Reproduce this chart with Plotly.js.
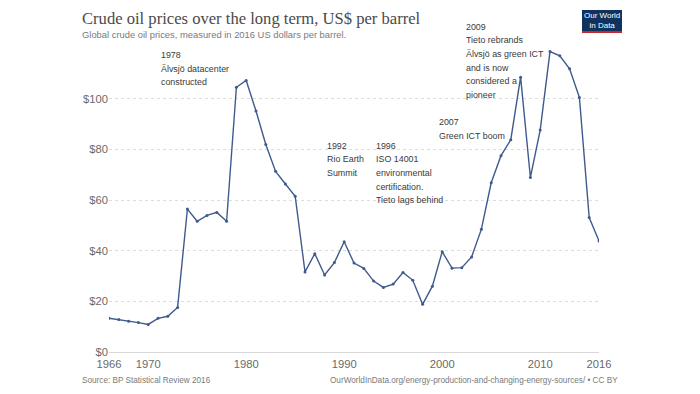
<!DOCTYPE html>
<html>
<head>
<meta charset="utf-8">
<script src="https://cdn.plot.ly/plotly-3.0.1.min.js"></script>
<style>html,body{margin:0;padding:0;background:#fff;}#chart{width:700px;height:394px;}</style>
</head>
<body>
<div id="chart"></div>
<script>
// ---- Data ----
const years = [1966,1967,1968,1969,1970,1971,1972,1973,1974,1975,1976,1977,1978,1979,1980,
  1981,1982,1983,1984,1985,1986,1987,1988,1989,1990,1991,1992,1993,1994,1995,1996,1997,1998,1999,
  2000,2001,2002,2003,2004,2005,2006,2007,2008,2009,2010,2011,2012,2013,2014,2015,2016];
const prices = [13.3,12.8,12.1,11.6,10.9,13.3,14.1,17.6,56.4,51.6,53.9,55.1,51.6,104.5,107.2,
  95.1,81.9,71.3,66.3,61.5,31.6,38.8,30.4,35.3,43.5,35.1,33.0,28.0,25.5,26.8,31.4,28.3,18.8,26.0,
  39.6,33.1,33.3,37.5,48.5,66.8,77.5,83.8,108.5,68.9,87.6,118.6,116.9,111.8,100.5,53.1,43.8];
const xTickVals = [1966,1970,1980,1990,2000,2010,2016];
const yTickVals = [0,20,40,60,80,100];
const yTickText = ['$0','$20','$40','$60','$80','$100'];

const titleText = 'Crude oil prices over the long term, US$ per barrel';
const subtitleText = 'Global crude oil prices, measured in 2016 US dollars per barrel.';
const sourceText = 'Source: BP Statistical Review 2016';
const urlText = 'OurWorldInData.org/energy-production-and-changing-energy-sources/ • CC BY';
const notes = [
  {x:161, y:55, lines:['1978','Älvsjö datacenter','constructed']},
  {x:327.5, y:145.7, lines:['1992','Rio Earth','Summit']},
  {x:376.5, y:145.7, lines:['1996','ISO 14001','environmental','certification.','Tieto lags behind']},
  {x:439.5, y:122.5, lines:['2007','Green ICT boom']},
  {x:466.3, y:26.8, lines:['2009','Tieto rebrands','Älvsjö as green ICT','and is now','considered a','pioneer']}
];

// ---- Layout helpers ----
const W = 700, H = 394;
const M = {l:109, r:101, t:48, b:42};
const PW = W - M.l - M.r, PH = H - M.t - M.b;
const TXT_PAD = 2.5; // annotation inner padding compensation
const px = x => (x - M.l) / PW;
const py = y => (H - M.b - y) / PH;
const pxL = x => px(x - TXT_PAD);

const sans = 'Liberation Sans, Arial, sans-serif';
const annotations = [];
notes.forEach(n => {
  n.lines.forEach((ln, i) => {
    annotations.push({xref:'paper', yref:'paper', x:pxL(n.x), y:py(n.y + i*13.65),
      xanchor:'left', yanchor:'middle', text:ln, showarrow:false,
      font:{family:sans, size:8.9, color:'#3a3a3a'}});
  });
});
annotations.push({xref:'paper', yref:'paper', x:pxL(82), y:py(18.5), xanchor:'left', yanchor:'middle',
  text:titleText, showarrow:false, font:{family:'Liberation Serif, Times New Roman, serif', size:16.6, color:'#4a4a4a'}});
annotations.push({xref:'paper', yref:'paper', x:pxL(82), y:py(34), xanchor:'left', yanchor:'middle',
  text:subtitleText, showarrow:false, font:{family:sans, size:9.4, color:'#7a7a7a'}});
annotations.push({xref:'paper', yref:'paper', x:pxL(82), y:py(380), xanchor:'left', yanchor:'middle',
  text:sourceText, showarrow:false, font:{family:sans, size:8.2, color:'#7a7a7a'}});
annotations.push({xref:'paper', yref:'paper', x:px(617 + TXT_PAD), y:py(380), xanchor:'right', yanchor:'middle',
  text:urlText, showarrow:false, font:{family:sans, size:8.2, color:'#7a7a7a'}});
annotations.push({xref:'paper', yref:'paper', x:px(602), y:py(20.5), xanchor:'center', yanchor:'middle',
  text:'Our World<br>in Data', showarrow:false, font:{family:sans, size:8, color:'#ffffff'}});

const shapes = [
  {type:'rect', xref:'paper', yref:'paper', x0:px(582), x1:px(622), y0:py(31), y1:py(10),
   fillcolor:'#10325e', line:{width:0}, layer:'below'},
  {type:'rect', xref:'paper', yref:'paper', x0:px(582), x1:px(622), y0:py(33), y1:py(31),
   fillcolor:'#c8282b', line:{width:0}, layer:'below'}
];

const trace = {
  x: years, y: prices, type:'scatter', mode:'lines+markers',
  line:{color:'#3f5b8c', width:1.4},
  marker:{color:'#3f5b8c', size:3},
  hoverinfo:'skip'
};

const layout = {
  width:W, height:H, margin:M,
  paper_bgcolor:'#ffffff', plot_bgcolor:'#ffffff',
  showlegend:false,
  xaxis:{range:[1966,2016], tickvals:xTickVals, ticktext:xTickVals.map(String),
    showgrid:false, zeroline:false, showline:false, ticks:'', ticklabelstandoff:4,
    tickfont:{family:sans, size:11.2, color:'#6a6a6a'}},
  yaxis:{range:[0,120], tickvals:yTickVals, ticktext:yTickText,
    showgrid:true, gridcolor:'#dddddd', griddash:'dot', gridwidth:1,
    zeroline:true, zerolinecolor:'#d8d8d8', zerolinewidth:1, showline:false, ticks:'',
    tickfont:{family:sans, size:11.2, color:'#6a6a6a'}},
  annotations: annotations,
  shapes: shapes
};

Plotly.newPlot('chart', [trace], layout, {displayModeBar:false, staticPlot:true});
</script>
</body>
</html>
